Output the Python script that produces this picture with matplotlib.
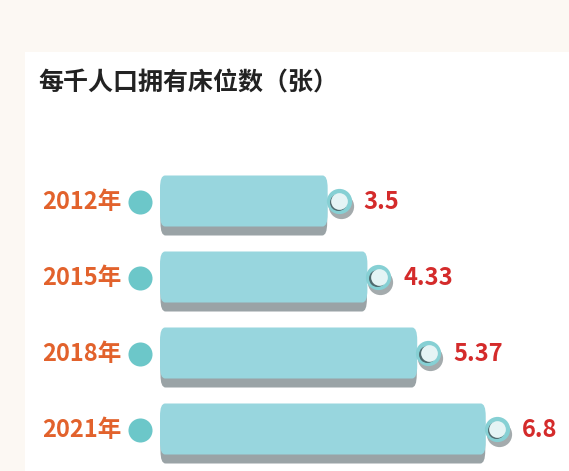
import matplotlib
matplotlib.use("Agg")
import matplotlib.pyplot as plt
from matplotlib.patches import FancyBboxPatch, Rectangle
from matplotlib.transforms import blended_transform_factory

plt.rcParams['font.family'] = ['Noto Sans CJK SC', 'DejaVu Sans']

# data
years = ['2012年', '2015年', '2018年', '2021年']
values = [3.5, 4.33, 5.37, 6.8]
value_labels = ['3.5', '4.33', '5.37', '6.8']
title = '每千人口拥有床位数（张）'

W, H = 569, 471
PX = 47.9          # pixels per unit on x
X0 = 160           # pixel where the bars start
ROW = 76           # pixels between rows
Y0 = 201           # pixel centre of the first row

fig = plt.figure(figsize=(W / 100, H / 100), dpi=100, facecolor='#fcf8f3')
# white panel
fig.patches.append(Rectangle((25 / W, 0), 1, (H - 52) / H, transform=fig.transFigure,
                             facecolor='white', edgecolor='none', zorder=-5))

ax = fig.add_axes([0, 0, 1, 1])
ax.set_facecolor('none')
ax.set_zorder(2)
ax.set_xlim(-X0 / PX, (W - X0) / PX)
ax.set_ylim((H - Y0) / ROW, -Y0 / ROW)
ax.axis('off')

bar_h = 51 / ROW
shadow = 9 / ROW
asp = PX / ROW
r = 5 / PX

for i, v in enumerate(values):
    # shadow under the bar
    ax.add_patch(FancyBboxPatch((0.01, i - bar_h / 2 + shadow), v - 0.02, bar_h,
                                boxstyle=f'round,pad=0,rounding_size={r}',
                                mutation_aspect=1 / asp, facecolor='#9aa3a6',
                                edgecolor='none', zorder=2))
    ax.add_patch(FancyBboxPatch((0, i - bar_h / 2), v, bar_h,
                                boxstyle=f'round,pad=0,rounding_size={r}',
                                mutation_aspect=1 / asp, facecolor='#98d6de',
                                edgecolor='none', zorder=3))
    # knob at the end of the bar
    kx = v + 11 / PX
    ax.scatter([kx + 2 / PX], [i + 5 / ROW], s=330, color='#a4abad', zorder=4, linewidths=0)
    ax.scatter([kx], [i], s=330, color='#86d0d4', zorder=5, linewidths=0)
    ax.scatter([kx - 1 / PX], [i + 1 / ROW], s=150, color='#4f6a6e', zorder=6, linewidths=0)
    ax.scatter([kx + 0.3 / PX], [i - 0.3 / ROW], s=145, color='#e5f4f5', zorder=7, linewidths=0)
    ax.text(v + 36 / PX, i + 1 / ROW, value_labels[i], color='#d42b2b', fontsize=17,
            fontweight='bold', ha='left', va='center', zorder=8)

# year labels and teal dots on the left
tr = blended_transform_factory(fig.transFigure, ax.transData)
for i, y in enumerate(years):
    ax.text(122 / W, i + 1 / ROW, y, transform=tr, color='#e2622c', fontsize=17,
            fontweight='bold', ha='right', va='center')
    ax.scatter([140 / W], [i + 1 / ROW], transform=tr, s=300, color='#6cc7c9',
               linewidths=0, zorder=3)

fig.text(38 / W, 1 - 83 / H, title, fontsize=18, fontweight='black', color='#222222',
         ha='left', va='center')

fig.savefig('out.png', dpi=100, facecolor=fig.get_facecolor())
